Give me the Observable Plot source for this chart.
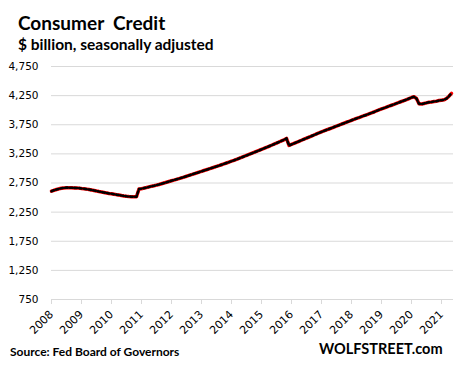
<!DOCTYPE html>
<html><head><meta charset="utf-8">
<script src="https://cdn.jsdelivr.net/npm/d3@7"></script>
<script src="https://cdn.jsdelivr.net/npm/@observablehq/plot@0.6"></script>
<style>
body{margin:0;background:#fff;}
#wrap{position:relative;width:461px;height:369px;overflow:hidden;font-family:Lato,"Open Sans",sans-serif;}
.t{position:absolute;white-space:pre;font-weight:bold;color:#000;line-height:1;}
#chart{position:absolute;left:0;top:0;}
</style></head><body>
<div id="wrap">
<div id="chart"></div>
<div class="t" style="left:18px;top:13px;font-size:19px;">Consumer  Credit</div>
<div class="t" style="left:18px;top:37px;font-size:15.5px;">$ billion, seasonally adjusted</div>
<div class="t" style="left:10px;top:346px;font-size:12px;">Source: Fed Board of Governors</div>
<div class="t" style="left:319px;top:342px;font-size:14.5px;">WOLFSTREET.com</div>
</div>
<script>
const startYear = 2008;
const v2008 = [2609, 2625, 2638, 2650, 2660, 2666, 2670, 2670, 2668, 2666, 2664, 2662];
const v2009 = [2656, 2651, 2645, 2638, 2630, 2622, 2612, 2603, 2595, 2587, 2579, 2571];
const v2010 = [2565, 2558, 2550, 2543, 2535, 2528, 2522, 2518, 2515, 2514, 2516, 2647];
const v2011 = [2652, 2662, 2672, 2683, 2693, 2703, 2714, 2724, 2737, 2750, 2762, 2775];
const v2012 = [2788, 2800, 2813, 2826, 2839, 2852, 2866, 2880, 2894, 2908, 2922, 2936];
const v2013 = [2950, 2964, 2978, 2992, 3006, 3020, 3034, 3048, 3063, 3078, 3093, 3108];
const v2014 = [3124, 3140, 3156, 3172, 3189, 3206, 3223, 3240, 3257, 3274, 3291, 3308];
const v2015 = [3326, 3344, 3362, 3380, 3398, 3416, 3435, 3454, 3473, 3492, 3515, 3395];
const v2016 = [3412, 3430, 3448, 3466, 3484, 3502, 3520, 3538, 3556, 3574, 3592, 3610];
const v2017 = [3627, 3644, 3661, 3677, 3694, 3710, 3727, 3743, 3760, 3776, 3793, 3809];
const v2018 = [3826, 3842, 3858, 3874, 3890, 3906, 3921, 3937, 3953, 3969, 3989, 4005];
const v2019 = [4021, 4037, 4053, 4069, 4085, 4101, 4117, 4133, 4149, 4165, 4181, 4200];
const v2020 = [4218, 4230, 4200, 4110, 4105, 4115, 4125, 4135, 4140, 4148, 4155, 4165];
const v2021 = [4172, 4178, 4200, 4240, 4290];
const yearTicks = [2008,2009,2010,2011,2012,2013,2014,2015,2016,2017,2018,2019,2020,2021];
const yTicks = [750,1250,1750,2250,2750,3250,3750,4250,4750];

const series = [v2008,v2009,v2010,v2011,v2012,v2013,v2014,v2015,v2016,v2017,v2018,v2019,v2020,v2021];
const data = series.flatMap((arr, i) => arr.map((v, m) => ({t: startYear + i + m / 12, v})));

const chart = Plot.plot({
  width: 461, height: 369,
  marginLeft: 51, marginRight: 8, marginTop: 66, marginBottom: 70,
  style: {fontFamily: "DejaVu Sans, Verdana, sans-serif", fontSize: "10.5px", color: "#000", background: "#fff"},
  x: {domain: [2008, 2021.4], ticks: yearTicks, tickFormat: d => String(d), label: null},
  y: {domain: [750, 4750], ticks: yTicks, tickFormat: d3.format(","), label: null},
  marks: [
    Plot.gridY(yTicks, {stroke: "#d9d9d9", strokeOpacity: 1, strokeWidth: 1}),
    Plot.axisY({ticks: yTicks, tickSize: 0, tickPadding: 13, tickFormat: d3.format(","), label: null, fill: "#000"}),
    Plot.axisX({ticks: yearTicks, tickSize: 5, tickRotate: -45, tickPadding: 8, stroke: "#d9d9d9", strokeOpacity: 1, tickFormat: d => String(d), label: null, fill: "#000", fontSize: 11}),
    Plot.line(data, {x: "t", y: "v", stroke: "#ff0000", strokeWidth: 3.5}),
    Plot.line(data, {x: "t", y: "v", stroke: "#000", strokeWidth: 2.6, strokeDasharray: "2.5 2.2"})
  ]
});
document.getElementById("chart").appendChild(chart);
</script>
</body></html>
